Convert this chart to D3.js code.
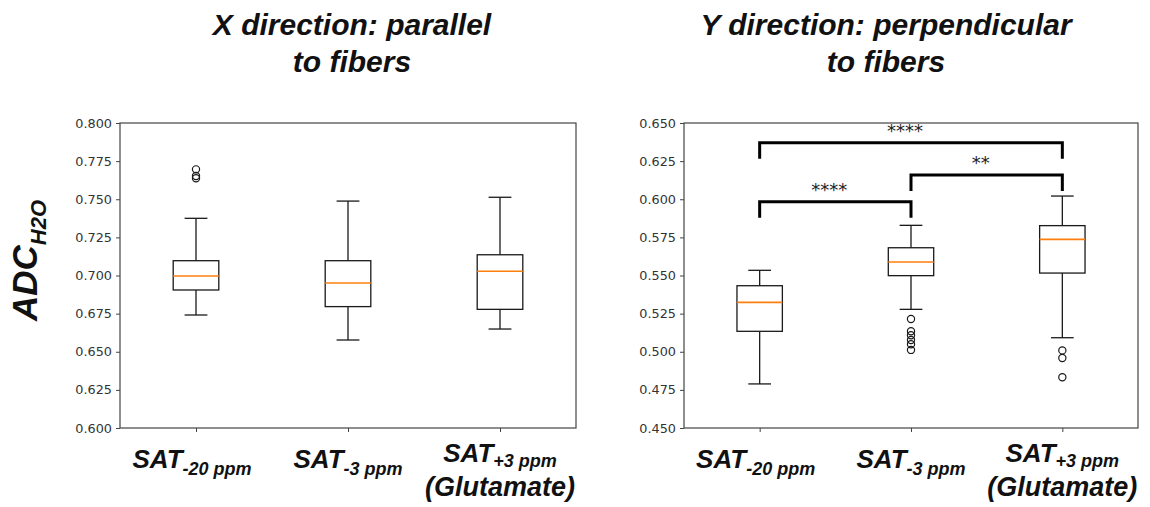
<!DOCTYPE html>
<html>
<head>
<meta charset="utf-8">
<script src="https://cdn.jsdelivr.net/npm/d3@7"></script>
<style>
  html, body { margin: 0; padding: 0; background: #fff; }
  svg { display: block; }
</style>
</head>
<body>
<svg id="chart" width="1150" height="507"></svg>
<script>
// ---------------- DATA ----------------
const positions = [1, 2, 3];
const catMain = ["SAT", "SAT", "SAT"];
const catSub = ["-20 ppm", "-3 ppm", "+3 ppm"];
const catLine2 = ["", "", "(Glutamate)"];

// X direction (parallel to fibers)
const xLow  = [0.6741, 0.6577, 0.6649];
const xQ1   = [0.6905, 0.6796, 0.6778];
const xMed  = [0.6997, 0.6951, 0.7028];
const xQ3   = [0.7097, 0.7097, 0.7136];
const xHigh = [0.7375, 0.7488, 0.7513];
const xOut  = [[0.7696, 0.7652, 0.7638], [], []];
const xTicks = [0.600, 0.625, 0.650, 0.675, 0.700, 0.725, 0.750, 0.775, 0.800];

// Y direction (perpendicular to fibers)
const yLow  = [0.4789, 0.5278, 0.5092];
const yQ1   = [0.5134, 0.5499, 0.5516];
const yMed  = [0.5324, 0.5589, 0.5737];
const yQ3   = [0.5433, 0.5682, 0.5827];
const yHigh = [0.5534, 0.5829, 0.6021];
const yOut  = [[], [0.5215, 0.5134, 0.5108, 0.5077, 0.5049, 0.5012], [0.5009, 0.4959, 0.4833]];
const yTicks = [0.450, 0.475, 0.500, 0.525, 0.550, 0.575, 0.600, 0.625, 0.650];

// significance brackets (right panel)
const brFrom  = [1, 1, 2];
const brTo    = [2, 3, 3];
const brLevel = [0.5984, 0.6371, 0.6159];
const brLabel = ["****", "****", "**"];

const titles = [["X direction: parallel", "to fibers"], ["Y direction: perpendicular", "to fibers"]];

// ---------------- DRAW ----------------
const svg = d3.select("#chart");
const plotTop = 123, plotBottom = 428;

const panels = [
  { x0: 120, x1: 576, domain: [0.600, 0.800], ticks: xTicks,
    low: xLow, q1: xQ1, med: xMed, q3: xQ3, high: xHigh, out: xOut, title: titles[0], titleX: 352, brackets: false },
  { x0: 684, x1: 1138, domain: [0.450, 0.650], ticks: yTicks,
    low: yLow, q1: yQ1, med: yMed, q3: yQ3, high: yHigh, out: yOut, title: titles[1], titleX: 886, brackets: true }
];

panels.forEach((p, pi) => {
  const x = d3.scaleLinear().domain([0.5, 3.5]).range([p.x0, p.x1]);
  const y = d3.scaleLinear().domain(p.domain).range([plotBottom, plotTop]);
  const g = svg.append("g");

  // y axis
  const ya = g.append("g").attr("transform", `translate(${p.x0},0)`)
    .call(d3.axisLeft(y).tickValues(p.ticks).tickFormat(d3.format(".3f")).tickSize(4).tickPadding(4));
  ya.select(".domain").remove();
  ya.selectAll(".tick line").attr("stroke", "#444");
  ya.selectAll(".tick text").attr("font-family", "DejaVu Sans, sans-serif").attr("font-size", 12.8).attr("fill", "#333");

  // x axis ticks
  const xa = g.append("g").attr("transform", `translate(0,${plotBottom})`)
    .call(d3.axisBottom(x).tickValues(positions).tickFormat("").tickSize(4));
  xa.select(".domain").remove();
  xa.selectAll(".tick line").attr("stroke", "#444");

  // frame
  g.append("rect").attr("x", p.x0).attr("y", plotTop).attr("width", p.x1 - p.x0).attr("height", plotBottom - plotTop)
    .attr("fill", "none").attr("stroke", "#444").attr("stroke-width", 1.2);

  const bw = x(1.15) - x(1);   // half box width (width 0.3)
  const cw = bw / 2;            // half cap width
  positions.forEach((pos, i) => {
    const cx = x(pos);
    const bg = g.append("g").attr("stroke", "#1a1a1a").attr("stroke-width", 1.3).attr("fill", "none");
    // whiskers
    bg.append("line").attr("x1", cx).attr("x2", cx).attr("y1", y(p.q3[i])).attr("y2", y(p.high[i]));
    bg.append("line").attr("x1", cx).attr("x2", cx).attr("y1", y(p.q1[i])).attr("y2", y(p.low[i]));
    // caps
    bg.append("line").attr("x1", cx - cw).attr("x2", cx + cw).attr("y1", y(p.high[i])).attr("y2", y(p.high[i]));
    bg.append("line").attr("x1", cx - cw).attr("x2", cx + cw).attr("y1", y(p.low[i])).attr("y2", y(p.low[i]));
    // box
    bg.append("rect").attr("x", cx - bw).attr("width", 2 * bw)
      .attr("y", y(p.q3[i])).attr("height", y(p.q1[i]) - y(p.q3[i]));
    // median
    g.append("line").attr("x1", cx - bw).attr("x2", cx + bw).attr("y1", y(p.med[i])).attr("y2", y(p.med[i]))
      .attr("stroke", "#ff7f0e").attr("stroke-width", 1.6);
    // outliers
    g.selectAll(null).data(p.out[i]).enter().append("circle")
      .attr("cx", cx).attr("cy", d => y(d)).attr("r", 3.6)
      .attr("fill", "none").attr("stroke", "#1a1a1a").attr("stroke-width", 1.2);

    // category labels
    const two = catLine2[i] !== "";
    const t = g.append("text").attr("x", cx + (i === 0 ? -4 : 0)).attr("y", two ? 462 : 468)
      .attr("text-anchor", "middle").attr("font-family", "Liberation Sans, Arial, sans-serif")
      .attr("font-weight", "bold").attr("font-style", "italic").attr("fill", "#111");
    t.append("tspan").attr("font-size", 26).text(catMain[i]);
    t.append("tspan").attr("font-size", 18).attr("dy", two ? 5 : 7).text(catSub[i]);
    if (two) {
      g.append("text").attr("x", cx).attr("y", 496).attr("text-anchor", "middle")
        .attr("font-family", "Liberation Sans, Arial, sans-serif").attr("font-weight", "bold")
        .attr("font-style", "italic").attr("font-size", 27).attr("fill", "#111").text(catLine2[i]);
    }
  });

  // titles
  p.title.forEach((line, li) => {
    svg.append("text").attr("x", p.titleX).attr("y", li === 0 ? 35 : 72).attr("text-anchor", "middle")
      .attr("font-family", "Liberation Sans, Arial, sans-serif").attr("font-weight", "bold")
      .attr("font-style", "italic").attr("font-size", 30).attr("fill", "#111").text(line);
  });

  // significance brackets
  if (p.brackets) {
    const drop = 0.0105;
    brFrom.forEach((f, k) => {
      const xa1 = x(f), xa2 = x(brTo[k]), yy = y(brLevel[k]), yd = y(brLevel[k] - drop);
      g.append("path").attr("d", `M${xa1},${yd}V${yy}H${xa2}V${yd}`)
        .attr("fill", "none").attr("stroke", "#000").attr("stroke-width", 3);
      g.append("text").attr("x", (xa1 + xa2) / 2 - 6).attr("y", yy - 6)
        .attr("text-anchor", "middle").attr("font-family", "DejaVu Sans, sans-serif")
        .attr("font-size", 18).attr("fill", "#222").text(brLabel[k]);
    });
  }
});

// y-axis label
const yl = svg.append("text").attr("transform", "translate(37,321) rotate(-90)")
  .attr("font-family", "Liberation Sans, Arial, sans-serif").attr("font-weight", "bold")
  .attr("font-style", "italic").attr("fill", "#111");
yl.append("tspan").attr("font-size", 35).text("ADC");
yl.append("tspan").attr("font-size", 22).attr("dy", 9).text("H2O");
</script>
</body>
</html>
